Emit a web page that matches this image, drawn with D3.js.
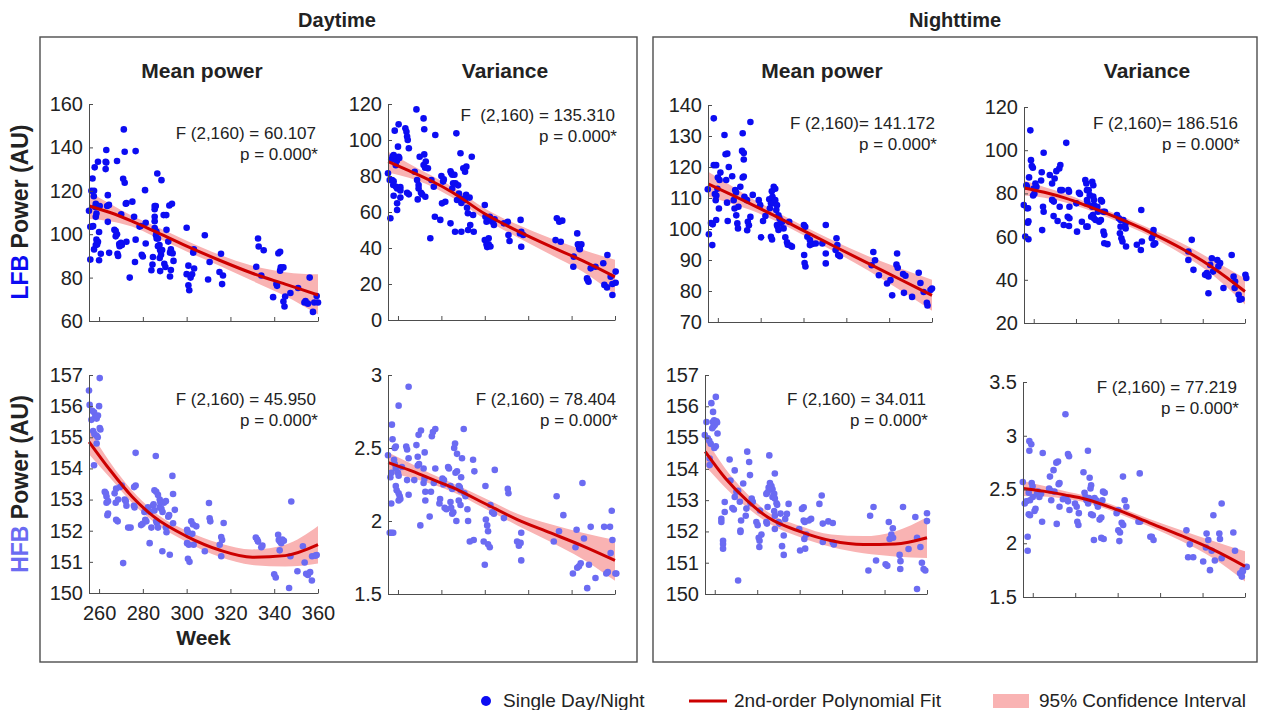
<!DOCTYPE html>
<html>
<head>
<meta charset="utf-8">
<script src="https://cdn.jsdelivr.net/npm/d3@7"></script>
<style>
  html, body { margin: 0; background: #fff; }
  svg { display: block; font-family: "Liberation Sans", Arial, sans-serif; }
</style>
</head>
<body>
<div id="chart"></div>
<script>
// ---- data ----
const xTicks = [260, 280, 300, 320, 340, 360];
const fitWeeks = [255.5, 265, 275, 285, 300, 315, 330, 345, 360];

// [week, value] per single day / night
const dayMeanLFB = [[255.4,110.8],[256,103.4],[256,88.3],[256.5,120],[257,125.7],[257,103.5],[257.3,103.8],[257.7,120],[257.6,117.5],[258,130.8],[258.2,112.5],[258.5,114],[258.5,108],[258.8,109.5],[258.5,95],[257.7,93],[258.8,97.5],[259.1,95.2],[259.5,133.4],[259.5,96.5],[260,101],[260.3,113],[260,88],[260.8,91],[263,130],[263.3,133],[263,133.4],[263.3,138.8],[264,118],[263.7,113],[264.5,113.5],[264,105.7],[264.6,91.4],[267,102],[268.2,100],[267.6,101.5],[267.6,99],[268.2,133.7],[268.4,91],[268.7,90],[269.2,95.5],[269.4,94.5],[270,96],[270.4,95],[270.1,109.2],[271.3,148.3],[271.7,138],[276.7,138.3],[271,125.5],[271.7,123.7],[272.2,114],[272.5,114.3],[272.5,96.5],[274,80],[275.2,115],[276,108],[276.7,97.5],[276.4,87.2],[278.5,103.5],[279,103.8],[279.5,90.5],[280,89.7],[281,120.3],[281.3,105.3],[281.3,95.7],[283.9,83.4],[284.6,89.5],[284.4,86],[285.4,113],[285.4,111.5],[285.9,113],[285.4,108],[285.4,106],[285.4,102.8],[286.2,101.2],[286,99.5],[286.3,98],[286.6,128],[286.9,98],[286.9,94.5],[287.6,95],[287.9,92.6],[287.7,89],[287.9,83],[288.3,90.5],[288.8,92.7],[288.5,124.9],[289.5,108.8],[290.7,108.8],[289.8,86.4],[290.3,84.9],[290.8,102],[291.6,96.6],[292.1,113.2],[293.3,114],[292.4,91.5],[292.8,93],[293.6,91.2],[292.4,80.5],[292.8,83.5],[294,87.7],[300,103],[300,81.6],[300.8,85.5],[300.8,76.5],[301.2,74.2],[301.8,80],[302.5,81.5],[303,91.5],[303.3,93],[303.4,84.2],[308.3,99.5],[309.8,79.1],[310.5,87.2],[315,82.6],[315.7,91],[316.2,77],[316.6,81],[331.8,85],[332.6,98],[332.9,94.3],[334.1,81],[335.2,92.6],[339.5,71],[341,77],[341.3,76.2],[341.9,91.2],[342.7,91.9],[342.7,83.2],[343,84.7],[344.2,84.7],[344.2,69],[344.7,66.7],[345,71.3],[347.4,72.9],[350.9,75.2],[353.8,68.5],[354.3,69.2],[355.4,68],[356.2,80],[357.7,64.2],[358.3,68.5],[359.4,71.5],[360,68.5]];

const dayVarLFB = [[255.4,81.5],[256.2,77.8],[256.5,56.5],[256.9,89],[257.5,90.8],[258,91.7],[257.3,77.8],[257.8,75],[258,77],[258,69],[258.5,105.2],[260.3,108.7],[259,86],[259.5,88.5],[259.1,74],[259.6,73.1],[259.6,64.8],[259.6,61.1],[260,96.3],[260.3,90.7],[260.6,90],[261.1,73.8],[261.1,72],[261.1,68],[263.4,106.5],[263.9,104.6],[264.2,101.9],[264.5,100],[265,95.4],[264.2,70.7],[265,69.8],[267.7,82.4],[268.5,117],[268.8,77.8],[269.5,75],[269.5,73],[269.1,67],[270,90.7],[270.6,70.7],[271.1,69.8],[271.8,112],[272.1,106],[271.8,86.1],[272.5,84.6],[272.1,92],[272.8,88],[272.6,68.5],[273.8,84.3],[274.9,45.4],[275.4,77.8],[276.5,74],[277,57.4],[277.2,102.8],[279.5,55.6],[280,80],[281.1,78.1],[280.3,64.8],[280.8,76.9],[281.8,65.7],[284.2,82.6],[284.5,81.7],[285,80.7],[284.2,53.7],[285,73],[285.4,76],[286,80.7],[286.5,76],[286.3,49],[286.9,103.7],[287.2,66.7],[287.7,74.8],[288.1,70.2],[288.8,92.6],[289.2,65],[289.5,67.4],[289.2,49],[290.1,84.3],[290.9,82.4],[291.5,85.2],[290.9,66.7],[291.4,69.6],[291.8,62.4],[292.2,59.3],[292.3,50],[293,68],[293.3,52.8],[294,90.7],[294.6,58.3],[294.9,49],[300,63.9],[300.3,57.4],[300.8,54.6],[300,44.4],[300.8,42],[301.1,40.5],[301.8,42],[301.8,45.4],[302.6,40.8],[302.3,57.4],[303.4,54.6],[304.2,52.8],[304.5,55.9],[308.8,53.7],[310.6,54.6],[310.9,47.2],[311.4,43.9],[316.2,48.1],[316.8,49],[316.5,55.6],[316.8,40.7],[317.7,47.2],[333.2,56.5],[334.3,54.6],[335.7,55.2],[332.6,44.4],[335,43.5],[341,35.2],[340.8,29.6],[342.6,48.1],[342.9,42],[343.8,41.1],[344.5,42],[343.5,40],[343.8,39.3],[347.1,23.1],[347.8,21.3],[347.4,22.2],[348.8,28.7],[351,29.6],[354.6,31.5],[356.5,36.1],[355.1,19.5],[356.3,18.1],[358.8,13.9],[358.8,20],[360.3,26.9],[360.3,20.7],[358,24]];

const nightMeanLFB = [[255.3,112.8],[255.8,98.3],[256.8,101.9],[257.6,101.5],[257.4,94.8],[258.1,135.7],[258.1,120.6],[259.2,120.6],[258.6,111.3],[259.3,110.8],[259.8,113],[259,109.3],[259.2,102.9],[260,116.6],[260.8,115.8],[261.2,118.2],[260.5,106.6],[263.1,130.3],[263.6,124.1],[264.4,124.3],[263.9,115.8],[264.3,108.5],[264.6,102.6],[265.1,120],[266.7,117],[267.4,109.3],[268.1,112.6],[268.5,111.8],[267.8,106.6],[268.6,104.4],[269.1,101.8],[269.4,100.2],[269.6,107.2],[270.5,113.6],[271.3,125.2],[272.1,124.5],[272.1,122.4],[271.6,130.9],[271.6,116.6],[272.1,116.9],[272.4,110.4],[273.6,109.3],[274,102.3],[274.5,101.2],[273.7,99.6],[275.2,134.5],[275.2,103.9],[276.3,111],[279.1,109.3],[279.8,107.7],[280.2,97.3],[281.1,102.6],[282.2,104.2],[284,109.6],[284.8,108.3],[284.3,106.7],[284.8,97.5],[285.3,96.6],[285.2,112.2],[285.5,110.4],[285.9,108.3],[286.1,113.6],[286.8,113],[286.8,109.3],[287.6,107.7],[287.3,106.1],[287.6,101.3],[287.9,100.8],[288.3,99.7],[288.3,104.4],[288.8,103.4],[289.3,101.9],[290.1,102.3],[290.7,100.2],[291.5,97.3],[292.3,95.7],[292.6,94.9],[293.3,102.3],[293.8,94.7],[294.6,94.3],[300.2,101.3],[300.8,100.7],[300.3,91.6],[300.5,89],[300.9,87.9],[301.8,97.5],[303,96.4],[303,94.8],[304.1,95.2],[305.7,95.3],[308.8,95.3],[310.4,101.3],[310.4,92.1],[310.4,88.9],[315.4,97],[315.8,94.8],[316.2,91.6],[317,91.2],[315,93.2],[331.8,88.3],[332.6,92.6],[333.4,89.9],[335.2,85.1],[339,82.4],[340.6,83.5],[341.4,78.6],[343.7,92.1],[343.4,88.5],[344,87.5],[346.5,85.5],[347.6,84.9],[346.9,79.4],[350.7,78.1],[353.8,85.9],[354.6,82.6],[356.1,79.7],[357.6,76.2],[357.9,75.3],[359.3,80.3],[360,80.8]];

const nightVarLFB = [[255.3,74.6],[256,60],[256.5,83.8],[256.8,83.1],[256.8,73.1],[257.3,73.1],[257.2,66.4],[257.5,67.1],[257.5,58.8],[257.8,87.4],[258.4,109.2],[258.7,95.4],[259.1,92.7],[259.6,91.9],[259.7,79],[260.3,79.8],[260,82.3],[260.8,84.6],[261.3,83.1],[263.8,89.8],[263.5,86],[264,63],[264.4,73.8],[264.7,71.5],[264.7,98.8],[267.6,88.5],[268.7,84.6],[268.7,77],[269.5,76.2],[269.4,69.5],[269.9,86.9],[270.7,90.3],[271.3,67.2],[272.1,91.5],[272.6,93.1],[272.3,73.8],[272.6,81.5],[273.4,81.5],[274.2,65.4],[275.4,103.4],[276.1,69.2],[276.9,68.5],[276.9,73.8],[276.4,81.5],[276.7,80.8],[276.7,64.9],[280.2,75.4],[280.5,62.3],[281.4,80.3],[281.9,79.7],[282.8,66.9],[284.4,86.2],[284.9,84.6],[285.2,81.5],[284.9,64.6],[285.5,64.6],[285.2,76.9],[285.5,75.4],[286,81.5],[286.5,79.2],[287.2,69.2],[288,70],[287.7,73.8],[288.5,74.6],[287.7,85.4],[288.2,83.8],[288.2,78.5],[288.5,76.9],[288.5,68.5],[289.3,67.7],[290.1,73.8],[290.4,71.5],[291,66.9],[291.8,67.7],[291.8,76.9],[292.3,76.2],[293,62.3],[293.4,60.8],[293.4,56.9],[294.9,56.5],[293,71.5],[293.7,71.5],[299.4,70],[300.3,68.5],[301.1,67.7],[301.1,64.6],[300.8,61.5],[301.5,59.2],[302,57.7],[302.4,67.7],[303.5,63.8],[303.5,66.2],[303.7,55.4],[308.8,56.2],[310.9,72.3],[311.2,57.7],[310.7,53.8],[315.9,59.2],[316.7,60.8],[316.7,56.2],[317.5,56.9],[316.7,63],[333.2,49.2],[334.8,58.5],[333.2,53.1],[335.6,44.6],[341.1,42.3],[341.9,43.1],[342.7,41.5],[342.7,33.8],[343.5,46.9],[344.3,50],[344.9,43.8],[346.9,49.2],[348.2,47.7],[347.4,46.2],[349.8,36.2],[353.7,51.5],[354.6,41.5],[355.1,36.2],[355.3,39.2],[357,33.1],[357.5,30.8],[358.4,31.1],[360.2,42.3],[360.6,40.8]];

const dayMeanHFB = [[255.4,156.5],[255.7,156.04],[256.5,155.56],[256.9,155.85],[257.7,155.8],[257.3,155.2],[257.9,155.1],[258.2,155.65],[258.9,155.6],[258.9,155.05],[259.4,155],[260,156],[260.3,156.9],[260.3,155.3],[260.6,155.25],[258.9,154.8],[257.7,154.1],[259.5,155.7],[262.6,153.25],[263.1,153.2],[263.4,153.1],[263.4,152.9],[264.1,152.95],[263.8,152.5],[264.1,152.55],[267.1,153.2],[267.8,153.35],[267.6,152.9],[268.7,153.0],[267.8,152.35],[268.5,152.3],[269.6,153.4],[270.4,153.45],[271,150.96],[271.7,153.0],[272.2,152.95],[272.5,152.8],[273.3,152.1],[274.4,152.1],[276,153.4],[276.7,153.45],[276.7,154.5],[275.9,152.8],[276.2,152.75],[279.2,152.18],[279.9,152.22],[280.7,152.6],[281.1,152.35],[281.6,152.3],[282.3,152.75],[283.3,152.6],[283.1,151.6],[283.9,152.1],[284.6,152.8],[284.9,152.85],[285.3,152.65],[285.9,154.4],[285.3,153.3],[286.1,153.25],[286.9,153.15],[286.1,152.3],[286.4,152.25],[286.9,152.1],[287.7,153.0],[288,152.9],[287.7,152.75],[288.5,152.7],[289,152.6],[288.9,151.34],[289.6,152.9],[290.5,152.95],[290.5,152.1],[290.8,151.95],[291.6,152.45],[292,152.5],[292.3,151.23],[293.5,153.76],[293.8,153.18],[293.8,152.24],[294.6,152.67],[300.2,152.03],[300.6,151.95],[300.2,151.6],[301,151.55],[300.6,151.1],[301.3,151.0],[302.1,152.3],[302.9,152.2],[302.6,151.9],[303.2,151.55],[304.4,152.14],[308.3,151.34],[310.2,152.89],[310.5,152.4],[310.8,152.3],[315.1,151.55],[315.8,151.8],[316.2,151.7],[315.8,151.18],[316.9,152.25],[331.6,151.78],[332.2,151.72],[332.6,151.65],[334.1,151.47],[334.6,151.52],[340,150.6],[340.7,150.5],[341.8,151.87],[342.1,151.7],[342.6,151.65],[343.2,151.6],[342.5,151.37],[343.7,151.72],[344.4,151.68],[346.8,150.16],[347.8,152.94],[347.4,151.18],[350.6,150.7],[353.1,151.5],[353.9,150.98],[354.6,150.62],[355.4,150.58],[356.4,150.67],[357.2,150.4],[357.3,151.18],[358.8,151.2],[359.4,151.22]];

const dayVarHFB = [[255.4,2.45],[256.2,1.92],[256.9,1.92],[257.8,1.92],[256.5,2.3],[257,2.33],[256.9,2.12],[257.2,2.66],[257.5,2.56],[258.2,2.42],[258.5,2.39],[259,2.36],[258.5,2.5],[259,2.51],[259,2.24],[259.4,2.21],[260,2.33],[260.3,2.31],[260.3,2.19],[260.8,2.17],[260.3,2.79],[261.1,2.15],[260.3,2.14],[261.8,2.37],[263.8,2.51],[264.2,2.49],[264.2,2.28],[264.9,2.92],[264.9,2.18],[264.9,2.43],[267.5,2.28],[268.5,2.52],[269.1,2.44],[269.1,2.38],[269.7,2.39],[269.5,2.59],[270.6,2.62],[270.3,1.97],[271.8,2.36],[272.2,2.29],[271.8,2.26],[272.3,2.47],[272.6,2.2],[272.6,2.14],[274.6,2.03],[275.2,2.2],[275.6,2.58],[276.1,2.61],[276.5,2.26],[277.2,2.63],[277.2,2.36],[279.1,2.12],[279.4,2.15],[280.5,2.29],[281.2,2.28],[280.9,2.25],[281.5,2.09],[282.3,2.08],[283.1,2.37],[283.5,2.36],[284.2,2.24],[285,2.22],[284.2,2.13],[284.5,2.09],[285,2.05],[285.5,2.06],[285.9,2.5],[286.3,2.53],[286.5,2.33],[287.2,2.34],[286.9,2.0],[287.2,2.46],[288,2.24],[288.5,2.23],[288.8,2.21],[288,2.14],[288.8,2.11],[289.1,2.3],[289.5,2.43],[290.3,2.63],[290.6,2.19],[291.1,2.17],[292,2.08],[292.3,2.0],[293.1,1.86],[294.6,2.42],[294.9,1.87],[295.2,2.34],[299.5,1.86],[300,1.7],[300.3,2.24],[300.5,2.01],[301.1,1.97],[301.5,1.93],[301.5,1.84],[302.3,1.82],[302.6,2.11],[303.4,2.06],[304.2,2.05],[304.6,2.35],[308.8,2.02],[310.6,2.22],[310.9,2.19],[314.9,1.86],[315.7,1.83],[316.5,1.85],[316.8,1.73],[316.8,1.92],[333.1,2.17],[331.8,1.86],[334.2,1.93],[336.2,2.04],[340.6,1.64],[341.8,1.82],[342.3,1.94],[342.6,1.68],[343.4,1.69],[344.2,1.71],[345,2.26],[345.7,1.88],[347.2,1.54],[348,1.7],[348.8,1.96],[351,1.61],[355,1.96],[356,1.64],[356.7,1.65],[357.7,1.96],[358,1.78],[358.5,2.07],[358.8,1.87],[360.2,1.64],[360.6,1.64]];

const nightMeanHFB = [[255.3,155.08],[256.1,155.5],[256.7,154.98],[257.4,154.9],[257.6,154.33],[257.6,154.12],[258.1,154.8],[258.4,156.1],[258.8,155.3],[259.1,155.5],[259.4,155.35],[259.2,155.82],[259.7,155.55],[260,155.4],[259.8,154.67],[260.5,154.72],[260.5,156.3],[260.8,155.52],[261.1,155.48],[261.3,155.13],[263.1,152.4],[263.1,152.3],[263.9,151.7],[263.9,151.6],[263.9,151.45],[264.7,152.94],[264.7,152.62],[267,154.3],[267.4,153.63],[268.3,152.75],[269,152.7],[269.4,153.1],[269.4,153.95],[270.2,153.27],[271,153.3],[271,150.43],[271.8,152.95],[272.1,152.03],[272.4,152.35],[272.1,151.98],[273.4,153.53],[274.6,152.5],[274.9,152.73],[275.3,154.55],[276.2,154.22],[276.6,153.8],[276.9,152.9],[277.4,153.05],[277.9,152.95],[279.6,152.3],[280.2,152.2],[280.7,151.8],[281.1,151.7],[281,151.5],[281.3,152.67],[282,151.9],[284.3,152.3],[284.6,152.25],[284.3,153.2],[284.9,153.25],[285.4,153.4],[284.9,152.78],[285.7,154.43],[286,153.55],[286.7,153.45],[287.2,153.35],[287.2,153.1],[288,153.2],[288.3,153.05],[288,152.65],[288.3,152.5],[288.3,153.85],[288.3,152.08],[289.1,152.9],[289.4,152.85],[290.1,152.3],[290.5,152.25],[291,152.57],[291.7,151.53],[292.5,151.25],[292.5,151.87],[293.2,152.4],[294,152.56],[294.8,152.88],[299.8,152.08],[300.2,151.39],[301.1,152.72],[301.9,152.77],[301.9,152.35],[302.4,152.3],[302.2,151.76],[302.6,151.45],[303.1,151.9],[304.3,152.35],[305.4,152.4],[309.3,152.88],[310.4,153.15],[310.9,152.25],[310.9,151.66],[313.5,152.32],[315.6,152.27],[315.6,151.65],[316.1,151.58],[332.4,150.75],[333.2,152.5],[334.8,152.78],[336,151.07],[340.5,150.95],[341.3,150.9],[342,152.3],[342.4,151.76],[343.2,151.9],[343.9,152.1],[344,151.8],[347.1,151.25],[347.5,151.05],[347.4,150.8],[348.7,152.78],[351.3,151.44],[354.5,152.46],[355.3,151.8],[355.3,150.16],[356.9,151.5],[357.6,151.0],[358.4,150.8],[359.2,150.75],[360,152.58],[360,152.33]];

const nightVarHFB = [[255.3,2.57],[256.2,2.37],[257,2.39],[257.6,2.06],[257.6,1.93],[258.4,2.95],[259.3,2.92],[258.4,2.86],[258.1,2.47],[258.7,2.4],[258.1,2.27],[258.7,2.26],[259.5,2.56],[259.9,2.53],[260,2.43],[260.8,2.3],[261.3,2.32],[262,2.46],[262.5,2.48],[263.1,2.43],[263.9,2.46],[264.4,2.2],[264.7,2.84],[267.7,2.51],[268.3,2.49],[268.1,2.62],[268.7,2.4],[269.8,2.68],[270.2,2.48],[271.1,2.75],[271.9,2.76],[271.3,2.18],[272.2,2.55],[272.6,2.56],[272.6,2.34],[274.2,2.41],[275.4,3.2],[275.8,2.42],[276.6,2.39],[276.6,2.83],[277.1,2.81],[277.3,2.31],[279.9,2.37],[280.7,2.34],[281,2.2],[281.5,2.17],[281.7,2.28],[283.9,2.66],[284.4,2.47],[284.9,2.43],[285.3,2.4],[286.1,2.37],[286.5,2.42],[286,2.86],[286.8,2.61],[287.2,2.51],[287.5,2.54],[287.5,2.27],[288.3,2.26],[288.8,2.03],[289.1,2.42],[289.9,2.4],[290.2,2.37],[290.7,2.34],[291.5,2.22],[292.3,2.24],[292.3,2.05],[293.4,2.04],[292.8,2.4],[293.1,2.48],[293.9,2.47],[299.5,2.28],[300.3,2.31],[300.3,2.12],[300.8,2.02],[301.1,2.1],[301.9,2.19],[302.6,2.17],[302.5,2.62],[303.3,2.4],[304.1,2.34],[310.4,2.65],[309.8,2.2],[310.6,2.2],[315.4,2.06],[316.1,2.06],[316.9,2.03],[332.4,2.12],[333.2,1.87],[334,1.99],[335.6,1.87],[340.3,1.83],[341.6,1.96],[341.9,2.09],[342.7,2.03],[343.5,1.75],[344.3,1.93],[345.1,2.26],[345.8,1.84],[347.9,2.09],[348.2,2.04],[349,2.37],[349,1.86],[354.5,2.1],[355.3,1.93],[357.7,1.72],[358.5,1.69],[359,1.74],[358.9,1.75],[360.8,1.78]];

// polynomial fit and 95% CI, sampled at fitWeeks
const fitDayMeanLFB  = [113, 110, 106, 101.5, 94.5, 88, 82, 77, 72];
const hiDayMeanLFB   = [119.5, 114, 108.5, 104, 97, 90.5, 85.5, 82.5, 81.5];
const loDayMeanLFB   = [107, 106, 103.5, 99, 92, 85.5, 78.5, 71.5, 63];
const fitDayVarLFB   = [88, 83, 77.5, 71, 59, 49.5, 41, 33, 24];
const hiDayVarLFB    = [93.5, 87, 80.5, 74, 62, 53, 45.5, 39, 33.5];
const loDayVarLFB    = [82, 79, 74.5, 68, 56, 46, 36.5, 27, 14];
const fitNightMeanLFB = [114.5, 111.5, 108.2, 104.8, 99.5, 94.2, 89, 83.8, 78.6];
const hiNightMeanLFB  = [118.5, 114.5, 110.2, 106.4, 101, 95.9, 91.3, 87.3, 83.6];
const loNightMeanLFB  = [110.5, 108.5, 106.2, 103.2, 98, 92.5, 86.7, 80.3, 73.6];
const fitNightVarLFB  = [82.5, 80.5, 77.8, 74.3, 68.5, 62, 54.5, 45.5, 34.6];
const hiNightVarLFB   = [86, 83, 79.8, 75.9, 70.1, 63.8, 57, 49, 40.6];
const loNightVarLFB   = [79, 78, 75.8, 72.7, 66.9, 60.2, 52, 42, 28.6];
const fitDayMeanHFB  = [154.85, 153.95, 153.1, 152.45, 151.82, 151.38, 151.15, 151.2, 151.55];
const hiDayMeanHFB   = [155.25, 154.2, 153.3, 152.62, 152.0, 151.6, 151.4, 151.55, 152.15];
const loDayMeanHFB   = [154.45, 153.7, 152.9, 152.28, 151.64, 151.16, 150.9, 150.85, 150.95];
const fitDayVarHFB   = [2.40, 2.35, 2.29, 2.23, 2.12, 2.01, 1.92, 1.83, 1.73];
const hiDayVarHFB    = [2.47, 2.40, 2.325, 2.26, 2.155, 2.05, 1.98, 1.92, 1.87];
const loDayVarHFB    = [2.33, 2.30, 2.255, 2.20, 2.085, 1.97, 1.86, 1.74, 1.59];
const fitNightMeanHFB = [154.55, 153.7, 153.0, 152.45, 152.0, 151.7, 151.58, 151.6, 151.8];
const hiNightMeanHFB  = [155.0, 154.0, 153.22, 152.62, 152.18, 151.9, 151.85, 152.0, 152.45];
const loNightMeanHFB  = [154.1, 153.4, 152.78, 152.28, 151.82, 151.5, 151.3, 151.2, 151.15];
const fitNightVarHFB  = [2.51, 2.485, 2.45, 2.41, 2.31, 2.19, 2.07, 1.94, 1.785];
const hiNightVarHFB   = [2.58, 2.535, 2.485, 2.44, 2.34, 2.225, 2.12, 2.02, 1.925];
const loNightVarHFB   = [2.44, 2.435, 2.415, 2.38, 2.28, 2.155, 2.02, 1.86, 1.645];

const statLabels = ['F (2,160) = 60.107', 'F  (2,160) = 135.310', 'F (2,160)= 141.172', 'F (2,160)= 186.516',
                    'F (2,160) = 45.950', 'F (2,160) = 78.404', 'F (2,160) = 34.011', 'F (2,160) = 77.219'];

// ---- layout ----
const W = 1264, H = 710;
const xDomain = [255.4, 360];
const lfbColor = '#0c0cf2';
const hfbColor = '#6b6bf2';
const fitColor = '#cc0000';
const ciColor = '#f9b3b3';
const axisColor = '#4d4d4d';
const textColor = '#222';
const tickFmt = d3.format('~g');

const panels = [
  { data: dayMeanLFB, fit: fitDayMeanLFB, hi: hiDayMeanLFB, lo: loDayMeanLFB, dot: lfbColor,
    yDomain: [60, 160], yTicks: [60, 80, 100, 120, 140, 160], left: 89, right: 318, top: 104, bottom: 321,
    stat: statLabels[0], statX: 316, statY: 139 },
  { data: dayVarLFB, fit: fitDayVarLFB, hi: hiDayVarLFB, lo: loDayVarLFB, dot: lfbColor,
    yDomain: [0, 120], yTicks: [0, 20, 40, 60, 80, 100, 120], left: 388, right: 615, top: 104, bottom: 320,
    stat: statLabels[1], statX: 615, statY: 121 },
  { data: nightMeanLFB, fit: fitNightMeanLFB, hi: hiNightMeanLFB, lo: loNightMeanLFB, dot: lfbColor,
    yDomain: [70, 140], yTicks: [70, 80, 90, 100, 110, 120, 130, 140], left: 708, right: 932, top: 105, bottom: 322,
    stat: statLabels[2], statX: 935, statY: 129 },
  { data: nightVarLFB, fit: fitNightVarLFB, hi: hiNightVarLFB, lo: loNightVarLFB, dot: lfbColor,
    yDomain: [20, 120], yTicks: [20, 40, 60, 80, 100, 120], left: 1024, right: 1245, top: 107, bottom: 323,
    stat: statLabels[3], statX: 1238, statY: 129 },
  { data: dayMeanHFB, fit: fitDayMeanHFB, hi: hiDayMeanHFB, lo: loDayMeanHFB, dot: hfbColor,
    yDomain: [150, 157], yTicks: [150, 151, 152, 153, 154, 155, 156, 157], left: 89, right: 318, top: 375, bottom: 593,
    stat: statLabels[4], statX: 316, statY: 405, xLabels: true },
  { data: dayVarHFB, fit: fitDayVarHFB, hi: hiDayVarHFB, lo: loDayVarHFB, dot: hfbColor,
    yDomain: [1.5, 3], yTicks: [1.5, 2, 2.5, 3], left: 388, right: 615, top: 375, bottom: 594,
    stat: statLabels[5], statX: 616, statY: 405 },
  { data: nightMeanHFB, fit: fitNightMeanHFB, hi: hiNightMeanHFB, lo: loNightMeanHFB, dot: hfbColor,
    yDomain: [150, 157], yTicks: [150, 151, 152, 153, 154, 155, 156, 157], left: 705, right: 927, top: 375, bottom: 594,
    stat: statLabels[6], statX: 926, statY: 405 },
  { data: nightVarHFB, fit: fitNightVarHFB, hi: hiNightVarHFB, lo: loNightVarHFB, dot: hfbColor,
    yDomain: [1.5, 3.5], yTicks: [1.5, 2, 2.5, 3, 3.5], left: 1023, right: 1245, top: 382, bottom: 597,
    stat: statLabels[7], statX: 1237, statY: 393 }
];

const svg = d3.select('#chart').append('svg')
  .attr('width', W)
  .attr('height', H);

// group frames
svg.append('rect').attr('x', 40).attr('y', 37).attr('width', 597).attr('height', 625)
  .attr('fill', 'none').attr('stroke', axisColor).attr('stroke-width', 1.4);
svg.append('rect').attr('x', 653).attr('y', 37).attr('width', 604).attr('height', 625)
  .attr('fill', 'none').attr('stroke', axisColor).attr('stroke-width', 1.4);

// headings
const heads = [
  ['Daytime', 337, 27, 20], ['Nighttime', 955, 27, 20],
  ['Mean power', 202, 78, 21], ['Variance', 505, 78, 21], ['Mean power', 822, 78, 21], ['Variance', 1147, 78, 21]
];
svg.selectAll('text.head').data(heads).join('text')
  .attr('class', 'head')
  .attr('x', d => d[1]).attr('y', d => d[2])
  .attr('text-anchor', 'middle')
  .attr('font-size', d => d[3]).attr('font-weight', 'bold').attr('fill', textColor)
  .text(d => d[0]);

// y-axis row labels
const rowLabels = [['LFB', lfbColor, 212], ['HFB', hfbColor, 484]];
rowLabels.forEach(([name, color, cy]) => {
  const t = svg.append('text')
    .attr('transform', `translate(28,${cy}) rotate(-90)`)
    .attr('text-anchor', 'middle')
    .attr('font-size', 23).attr('font-weight', 'bold').attr('fill', textColor);
  t.append('tspan').attr('fill', color).text(name);
  t.append('tspan').text(' Power (AU)');
});

// panels
panels.forEach(p => {
  const x = d3.scaleLinear().domain(xDomain).range([p.left, p.right]);
  const y = d3.scaleLinear().domain(p.yDomain).range([p.bottom, p.top]);
  const g = svg.append('g');

  const fitRows = fitWeeks.map((w, i) => ({ w, fit: p.fit[i], lo: p.lo[i], hi: p.hi[i] }));

  // confidence band
  g.append('path')
    .datum(fitRows)
    .attr('d', d3.area().curve(d3.curveMonotoneX)
      .x(d => x(d.w)).y0(d => y(d.lo)).y1(d => y(d.hi)))
    .attr('fill', ciColor);

  // single day/night points
  g.append('g').selectAll('circle')
    .data(p.data)
    .join('circle')
    .attr('cx', d => x(d[0]))
    .attr('cy', d => y(d[1]))
    .attr('r', 3.3)
    .attr('fill', p.dot);

  // fit line
  g.append('path')
    .datum(fitRows)
    .attr('d', d3.line().curve(d3.curveMonotoneX).x(d => x(d.w)).y(d => y(d.fit)))
    .attr('fill', 'none')
    .attr('stroke', fitColor)
    .attr('stroke-width', 3);

  // axes, MATLAB style ticks pointing inward
  const yAxis = d3.axisLeft(y).tickValues(p.yTicks).tickFormat(tickFmt)
    .tickSizeInner(-4).tickSizeOuter(0).tickPadding(6);
  g.append('g')
    .attr('transform', `translate(${p.left},0)`)
    .call(yAxis)
    .attr('font-family', null).attr('font-size', 20)
    .call(a => a.select('.domain').attr('stroke', axisColor))
    .call(a => a.selectAll('.tick line').attr('stroke', axisColor))
    .call(a => a.selectAll('.tick text').attr('fill', textColor));

  const xAxis = d3.axisBottom(x).tickValues(xTicks)
    .tickFormat(p.xLabels ? tickFmt : '')
    .tickSizeInner(-4).tickSizeOuter(0).tickPadding(13);
  g.append('g')
    .attr('transform', `translate(0,${p.bottom})`)
    .call(xAxis)
    .attr('font-family', null).attr('font-size', 20)
    .call(a => a.select('.domain').attr('stroke', axisColor))
    .call(a => a.selectAll('.tick line').attr('stroke', axisColor))
    .call(a => a.selectAll('.tick text').attr('fill', textColor));

  // F-test annotation
  const st = g.append('text')
    .attr('text-anchor', 'end')
    .attr('font-size', 17)
    .attr('fill', textColor)
    .style('white-space', 'pre');
  st.append('tspan').attr('x', p.statX).attr('y', p.statY).text(p.stat);
  st.append('tspan').attr('x', p.statX + 2).attr('y', p.statY + 21).text('p = 0.000*');

  if (p.xLabels) {
    g.append('text')
      .attr('x', (p.left + p.right) / 2).attr('y', 645)
      .attr('text-anchor', 'middle')
      .attr('font-size', 21).attr('font-weight', 'bold').attr('fill', textColor)
      .text('Week');
  }
});

// legend
const legend = svg.append('g').attr('font-size', 19).attr('fill', textColor);
legend.append('circle').attr('cx', 486).attr('cy', 701).attr('r', 5).attr('fill', lfbColor);
legend.append('text').attr('x', 503).attr('y', 707).text('Single Day/Night');
legend.append('line').attr('x1', 689).attr('x2', 727).attr('y1', 701).attr('y2', 701)
  .attr('stroke', fitColor).attr('stroke-width', 3);
legend.append('text').attr('x', 734).attr('y', 707).text('2nd-order Polynomial Fit');
legend.append('rect').attr('x', 993).attr('y', 694).attr('width', 36).attr('height', 14).attr('fill', ciColor);
legend.append('text').attr('x', 1039).attr('y', 707).text('95% Confidence Interval');
</script>
</body>
</html>
